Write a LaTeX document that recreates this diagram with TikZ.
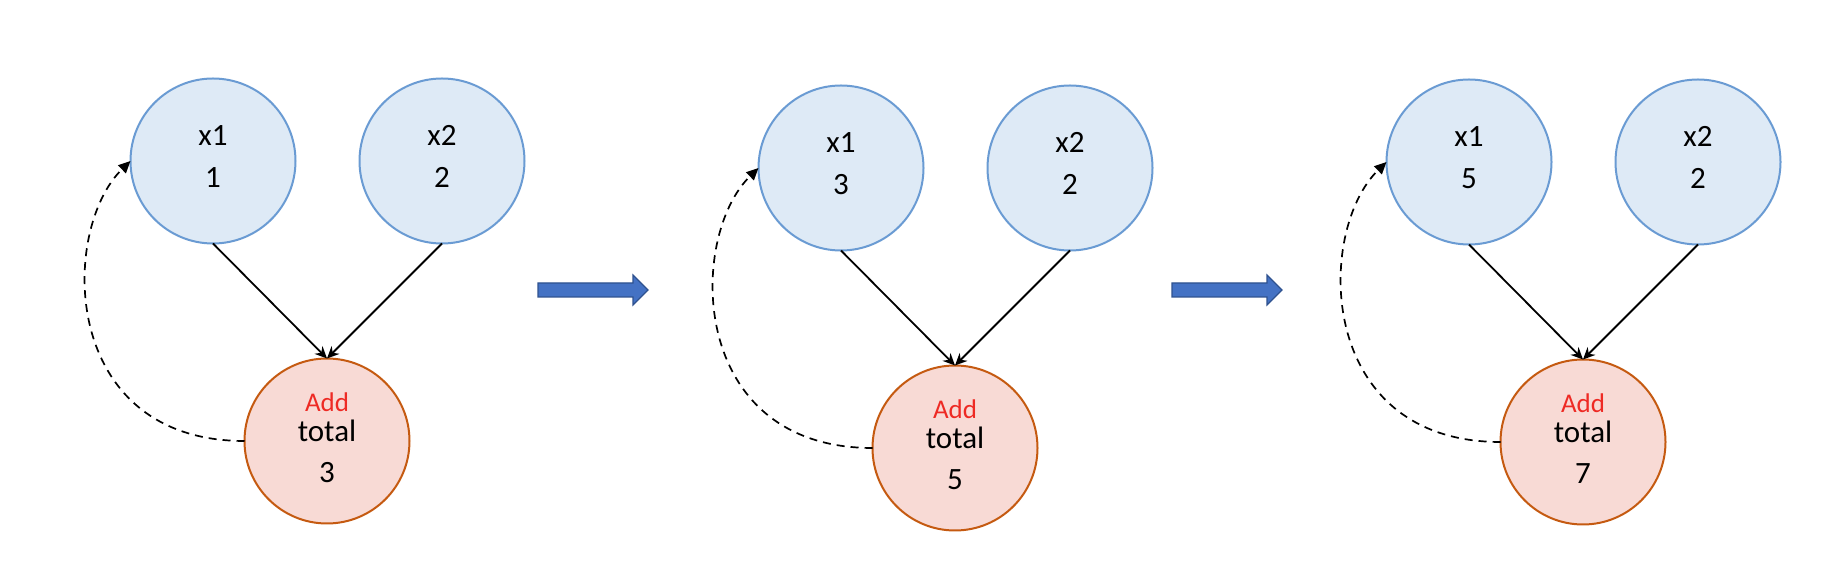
\documentclass[tikz,border=0pt]{standalone}
\usepackage{fontspec}
\setmainfont{Carlito}
\usetikzlibrary{arrows.meta,calc}
\definecolor{inblue}{HTML}{DEEAF6}
\definecolor{inborder}{HTML}{6A9BD3}
\definecolor{addfill}{HTML}{F8DAD5}
\definecolor{addborder}{HTML}{C55A11}
\definecolor{addred}{HTML}{EE2A24}
\definecolor{barfill}{HTML}{4472C4}
\definecolor{barborder}{HTML}{2F528F}
\begin{document}
\begin{tikzpicture}[x=0.5pt,y=-0.5pt,
  innode/.style={circle, draw=inborder, fill=inblue, line width=1pt, minimum size=82.5pt, inner sep=0pt, outer sep=0pt},
  addnode/.style={circle, draw=addborder, fill=addfill, line width=1pt, minimum size=82.5pt, inner sep=0pt, outer sep=0pt},
  txt/.style={anchor=base, inner sep=0pt, font=\fontsize{15.5}{18}\selectfont},
  addtxt/.style={anchor=base, inner sep=0pt, text=addred, font=\fontsize{13.5}{16}\selectfont},
  flow/.style={line width=0.9pt, -{Stealth[length=6pt,width=5.5pt]}},
  loopback/.style={line width=0.85pt, dash pattern=on 4pt off 3pt, -{Triangle[length=6pt,width=5.5pt]}},
  blockarrow/.style={fill=barfill, draw=barborder, line width=0.6pt, line join=miter}]
\useasboundingbox (0,0) rectangle (1848,576);

\foreach \g/\bx/\by/\va/\vs in {1/213/161/1/3, 2/841/168/3/5, 3/1469/162/5/7} {
  \node[innode] (x1-\g) at (\bx,\by) {};
  \node[innode] (x2-\g) at (\bx+229,\by) {};
  \node[addnode] (add-\g) at (\bx+114,\by+280) {};
  \node[txt] (x1l-\g) at ($(x1-\g)+(0,-15)$) {x1};
  \node[txt] (x1v-\g) at ($(x1-\g)+(0,27)$) {\va};
  \node[txt] (x2l-\g) at ($(x2-\g)+(0,-15)$) {x2};
  \node[txt] (x2v-\g) at ($(x2-\g)+(0,27)$) {2};
  \node[addtxt] (addl-\g) at ($(add-\g)+(0,-29.5)$) {Add};
  \node[txt] (addt-\g) at ($(add-\g)+(0,0.7)$) {total};
  \node[txt] (addv-\g) at ($(add-\g)+(0,42)$) {\vs};
  \draw[flow] (x1-\g.south) -- (add-\g.north);
  \draw[flow] (x2-\g.south) -- (add-\g.north);
  \draw[loopback] (add-\g.west) .. controls ($(add-\g.west)+(-185,0)$) and ($(x1-\g.west)+(-71,69)$) .. (x1-\g.west);
}

\foreach \ax in {538,1172} {
  \draw[blockarrow] (\ax,283) -- (\ax+95,283) -- (\ax+95,275) -- (\ax+110,290)
    -- (\ax+95,305) -- (\ax+95,297) -- (\ax,297) -- cycle;
}
\end{tikzpicture}
\end{document}
